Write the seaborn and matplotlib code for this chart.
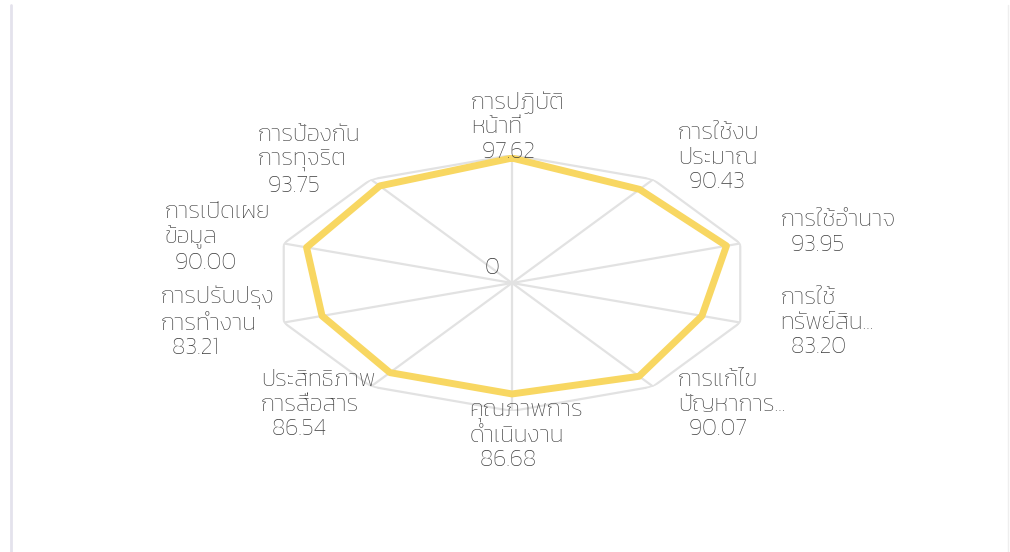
import numpy as np
import pandas as pd
import matplotlib
matplotlib.use("Agg")
import matplotlib.pyplot as plt
from matplotlib import font_manager
from matplotlib.ft2font import FT2Font
from matplotlib.lines import Line2D
import seaborn as sns

# ---- data ----
categories = [
    "การปฏิบัติ\nหน้าที่",
    "การใช้งบ\nประมาณ",
    "การใช้อำนาจ",
    "การใช้\nทรัพย์สิน...",
    "การแก้ไข\nปัญหาการ...",
    "คุณภาพการ\nดำเนินงาน",
    "ประสิทธิภาพ\nการสื่อสาร",
    "การปรับปรุง\nการทำงาน",
    "การเปิดเผย\nข้อมูล",
    "การป้องกัน\nการทุจริต",
]
scores = [97.62, 90.43, 93.95, 83.20, 90.07, 86.68, 86.54, 83.21, 90.00, 93.75]
r_max = 100
r_tick_label = "0"

# ---- register fonts that have Thai glyphs ----
thai_fams = []
for f in font_manager.findSystemFonts():
    try:
        ft = FT2Font(f)
        cm = ft.get_charmap()
        if 0x0E01 in cm and 0x0E32 in cm and 0x0E34 in cm:
            font_manager.fontManager.addfont(f)
            thai_fams.append(ft.family_name)
    except Exception:
        pass
thai_fams = sorted(set(thai_fams))

sns.set_theme(style="white")
pref = [f for f in ["Kanit", "Prompt"] if f in thai_fams]
fam_list = (pref[:1] if pref else thai_fams[:1]) + ["DejaVu Sans"]
plt.rcParams["font.family"] = fam_list
plt.rcParams["font.weight"] = "light"

TEXT_COLOR = "#3c3c3c"
LINE_COLOR = "#F8D762"
GRID_COLOR = "#E2E2E2"

fig = plt.figure(figsize=(10.10, 5.52), dpi=100)
fig.patch.set_facecolor("white")
ax = fig.add_axes([272 / 1010, (552 - 411) / 552, 480 / 1010, 256 / 552], projection="polar")
ax.set_aspect("auto")
ax.set_facecolor("none")
ax.set_theta_zero_location("N")
ax.set_theta_direction(-1)

n = len(categories)
theta = np.linspace(0, 2 * np.pi, n, endpoint=False)
df = pd.DataFrame({"theta": np.append(theta, theta[0]), "score": scores + scores[:1]})

# grid: outer decagon and spokes
ax.plot(np.append(theta, theta[0]), [r_max] * (n + 1), color=GRID_COLOR, lw=1.6, zorder=1)
for t in theta:
    ax.plot([t, t], [0, r_max], color=GRID_COLOR, lw=1.6, zorder=1)

sns.lineplot(data=df, x="theta", y="score", sort=False, ax=ax, color=LINE_COLOR, lw=5.0, zorder=3,
             estimator=None)

ax.set_ylim(0, r_max)
ax.set_xticks(theta)
ax.set_xticklabels([])
ax.set_yticks([])
ax.grid(False)
ax.spines["polar"].set_visible(False)
ax.set_xlabel("")
ax.set_ylabel("")

# label placement (styles only)
place = [
    ("center", "bottom", (6, -8)),
    ("left", "bottom", (25, -14)),
    ("left", "center", (40, 11)),
    ("left", "center", (40, 0)),
    ("left", "center", (25, -18)),
    ("center", "top", (14, 11)),
    ("right", "center", (4, -18)),
    ("right", "center", (-9, 0)),
    ("right", "center", (-14, 6)),
    ("right", "center", (-11, 19)),
]
for t, name, val, (ha, va, off) in zip(theta, categories, scores, place):
    ax.annotate(f"{name}\n  {val:.2f}", xy=(t, r_max), xytext=off, textcoords="offset pixels",
                ha=ha, va=va, multialignment="left", fontsize=17, color=TEXT_COLOR,
                linespacing=1.15, annotation_clip=False)

ax.annotate(r_tick_label, xy=(0, 0), xytext=(-12, 4), textcoords="offset pixels",
            ha="right", va="bottom", fontsize=17, color="#333333", annotation_clip=False)

# card borders
fig.add_artist(Line2D([11 / 1010, 11 / 1010], [0, 1 - 5 / 552], color="#E4E2EC", lw=2.0))
fig.add_artist(Line2D([1008 / 1010, 1008 / 1010], [0, 1 - 5 / 552], color="#EEEEEE", lw=1.0))

fig.savefig("out.png", dpi=100, facecolor="white")
